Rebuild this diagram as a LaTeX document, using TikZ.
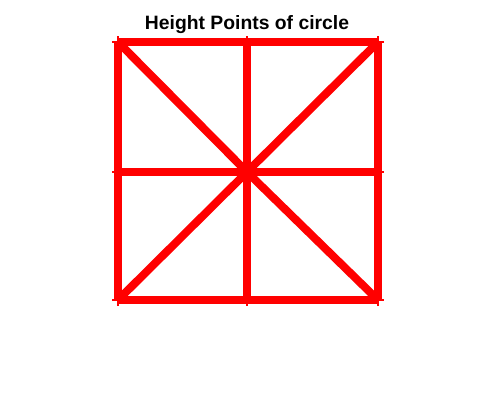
\documentclass[tikz,border=0pt]{standalone}
\usepackage{fontspec}
\setmainfont{Liberation Sans}
\usetikzlibrary{positioning}

\begin{document}
\begin{tikzpicture}[
    x=0.75pt, y=-0.75pt,
    edge/.style={draw=red, line width=6pt},
    pt/.style={inner sep=0pt, minimum size=0pt},
    plusmark/.style={draw=red, line width=2pt},
    title/.style={font=\bfseries\fontsize{14.5}{16}\selectfont},
]
\useasboundingbox (0,0) rectangle (496,407);

% Points
\node[pt] (tl) at (118,42) {};
\node[pt] (tm) at (247,42) {};
\node[pt] (tr) at (378,42) {};
\node[pt] (ml) at (118,172) {};
\node[pt] (c)  at (247,172) {};
\node[pt] (mr) at (378,172) {};
\node[pt] (bl) at (118,300) {};
\node[pt] (bm) at (247,300) {};
\node[pt] (br) at (378,300) {};

% Title
\node[title] (ttl) at (247,25) {Height Points of circle};

% Square edges
\draw[edge] (tl.center) -- (tm.center) -- (tr.center);
\draw[edge] (bl.center) -- (bm.center) -- (br.center);
\draw[edge] (tl.center) -- (ml.center) -- (bl.center);
\draw[edge] (tr.center) -- (mr.center) -- (br.center);

% Middle lines
\draw[edge] (tm.center) -- (c.center) -- (bm.center);
\draw[edge] (ml.center) -- (c.center) -- (mr.center);

% Diagonals
\draw[edge] (tl.center) -- (c.center) -- (br.center);
\draw[edge] (tr.center) -- (c.center) -- (bl.center);

% Markers
\foreach \p in {tl,tm,tr,ml,c,mr,bl,bm,br}
  \draw[plusmark] ([xshift=-4.5pt]\p.center) -- ([xshift=4.5pt]\p.center)
                  ([yshift=-4.5pt]\p.center) -- ([yshift=4.5pt]\p.center);

\end{tikzpicture}
\end{document}
